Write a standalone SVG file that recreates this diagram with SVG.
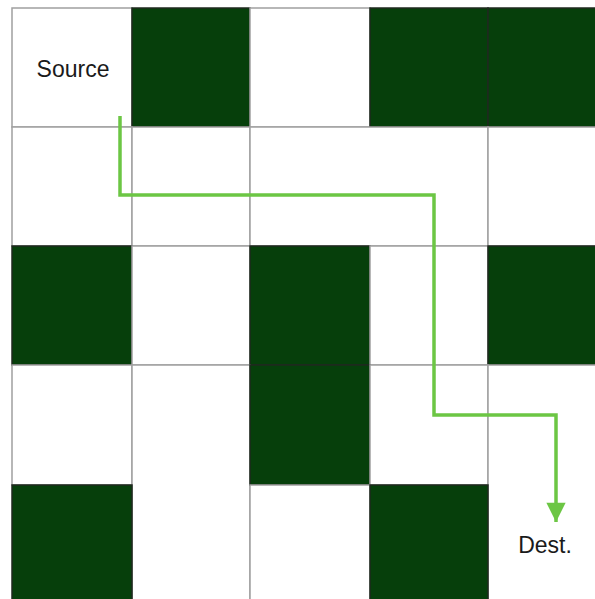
<svg xmlns="http://www.w3.org/2000/svg" width="595" height="599" viewBox="0 0 595 599">
<style>
.w{fill:#ffffff;stroke:#a0a0a0;stroke-width:1.5}
.d{fill:#063f0b;stroke:#1f2a1f;stroke-width:1.5}
.t{font-family:"Liberation Sans",Arial,sans-serif;font-size:23px;fill:#1a1a1a;text-anchor:middle}
.p{fill:none;stroke:#6cc644;stroke-width:3.5;stroke-linejoin:miter}
</style>
<defs>
<marker id="ah" viewBox="0 0 10 10" refX="10" refY="5" markerWidth="6" markerHeight="5.5" markerUnits="strokeWidth" orient="auto">
<path d="M0,0 L10,5 L0,10 z" fill="#6cc644"/>
</marker>
</defs>
<rect width="595" height="599" fill="#ffffff"/>
<g id="cells">
<g id="r0">
<rect id="source" class="w" x="12" y="8" width="120" height="119"/>
<rect class="d" x="132" y="8" width="118" height="119"/>
<rect class="w" x="250" y="8" width="120" height="119"/>
<rect class="d" x="370" y="8" width="118" height="119"/>
<rect class="d" x="488" y="8" width="110" height="119"/>
</g>
<g id="r1">
<rect class="w" x="12" y="127" width="120" height="119"/>
<rect class="w" x="132" y="127" width="118" height="119"/>
<rect class="w" x="250" y="127" width="238" height="119"/>
<rect class="w" x="488" y="127" width="110" height="119"/>
</g>
<g id="r2">
<rect class="d" x="12" y="246" width="120" height="119"/>
<rect class="w" x="132" y="246" width="118" height="119"/>
<rect class="d" x="250" y="246" width="120" height="119"/>
<rect class="w" x="370" y="246" width="118" height="119"/>
<rect class="d" x="488" y="246" width="110" height="119"/>
</g>
<g id="r3">
<rect class="w" x="12" y="365" width="120" height="120"/>
<rect class="w" x="132" y="365" width="118" height="240"/>
<rect class="d" x="250" y="365" width="120" height="120"/>
<rect class="w" x="370" y="365" width="118" height="120"/>
<rect id="dest" class="w" x="488" y="365" width="110" height="240"/>
</g>
<g id="r4">
<rect class="d" x="12" y="485" width="120" height="120"/>
<rect class="w" x="250" y="485" width="120" height="120"/>
<rect class="d" x="370" y="485" width="118" height="120"/>
</g>
</g>
<g id="connectors">
<polyline class="p" points="120,116 120,195 434,195 434,415 556,415 556,522" marker-end="url(#ah)"/>
</g>
<g id="labels">
<text class="t" x="73" y="77">Source</text>
<text class="t" x="545" y="553">Dest.</text>
</g>
</svg>
